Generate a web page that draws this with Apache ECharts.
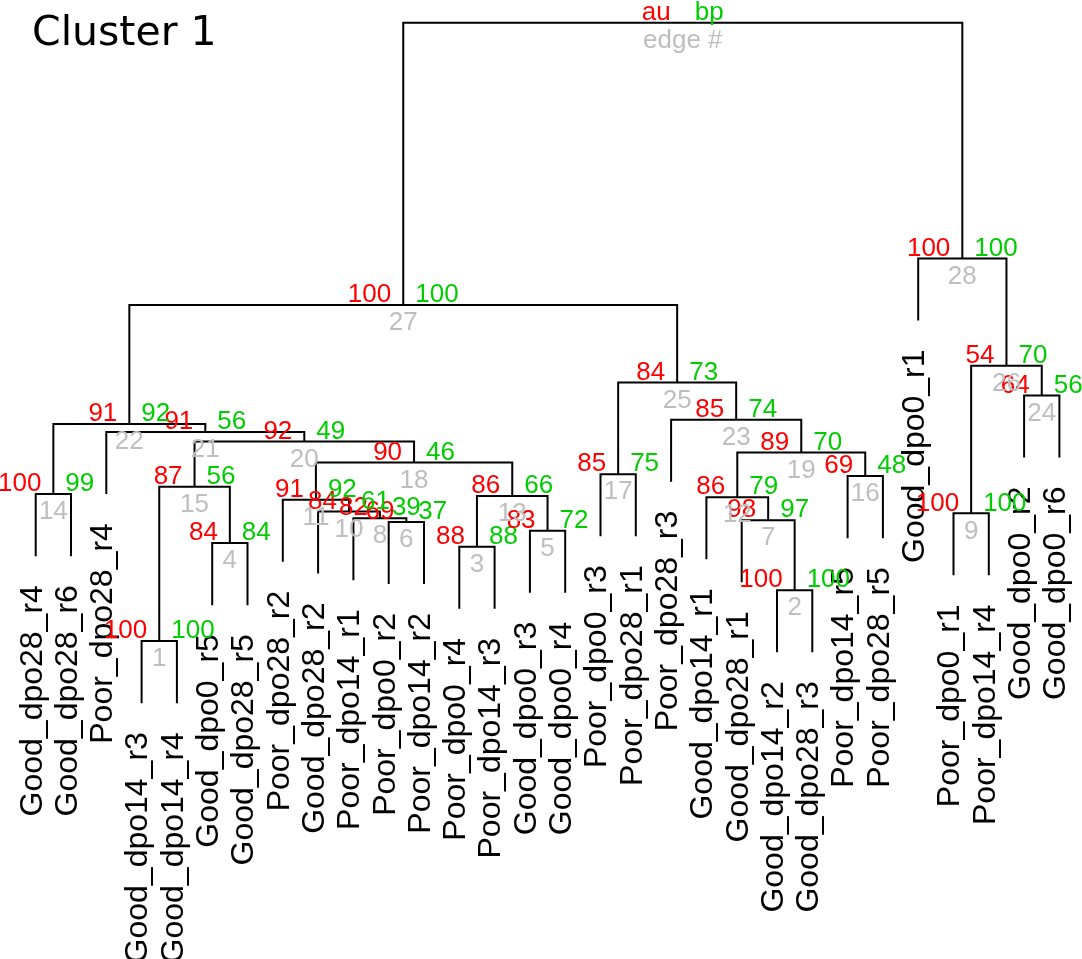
<!DOCTYPE html>
<html>
<head>
<meta charset="utf-8">
<title>Cluster 1</title>
<script src="https://cdn.jsdelivr.net/npm/echarts@6/dist/echarts.min.js"></script>
<style>
  html, body { margin: 0; padding: 0; background: #fff; }
  #main { width: 1082px; height: 959px; }
</style>
</head>
<body>
<div id="main"></div>
<script>
// leaves in plotting order (left to right)
var leafLabels = [
    'Good_dpo28_r4', 'Good_dpo28_r6', 'Poor_dpo28_r4', 'Good_dpo14_r3', 'Good_dpo14_r4',
    'Good_dpo0_r5', 'Good_dpo28_r5', 'Poor_dpo28_r2', 'Good_dpo28_r2', 'Poor_dpo14_r1',
    'Poor_dpo0_r2', 'Poor_dpo14_r2', 'Poor_dpo0_r4', 'Poor_dpo14_r3', 'Good_dpo0_r3',
    'Good_dpo0_r4', 'Poor_dpo0_r3', 'Poor_dpo28_r1', 'Poor_dpo28_r3', 'Good_dpo14_r1',
    'Good_dpo28_r1', 'Good_dpo14_r2', 'Good_dpo28_r3', 'Poor_dpo14_r5', 'Poor_dpo28_r5',
    'Good_dpo0_r1', 'Poor_dpo0_r1', 'Poor_dpo14_r4', 'Good_dpo0_r2', 'Good_dpo0_r6'
];

// merge table, hclust style: negative = leaf position, positive = earlier merge (edge #)
var mergeLeft  = [-4, -22, -13, -6, -15, -11, -21, -10, -27, -9, -8, -20, 3, -1, 1, -24, -17, 11, 12, 15, -3, 14, -19, -29, 17, 9, 22, -26, 27];
var mergeRight = [-5, -23, -14, -7, -16, -12, 2, 6, -28, 8, 10, 7, 5, -2, 4, -25, -18, 13, 16, 18, 20, 21, 19, -30, 23, 24, 25, 26, 28];
var mergeHeight = [0.003, 0.085, 0.155, 0.161, 0.181, 0.195, 0.198, 0.201, 0.209, 0.212,
                   0.231, 0.235, 0.237, 0.240, 0.252, 0.269, 0.272, 0.291, 0.307, 0.325,
                   0.340, 0.353, 0.360, 0.399, 0.420, 0.447, 0.545, 0.620, 1.000];

// p-values (%) for edges 1..28
var auValues = [100, 100, 88, 84, 83, 69, 98, 82, 100, 84, 91, 86, 86, 100, 87, 69, 85, 90, 89, 92, 91, 91, 85, 64, 84, 54, 100, 100];
var bpValues = [100, 100, 88, 84, 72, 37, 97, 39, 100, 61, 92, 79, 66, 99, 56, 48, 75, 46, 70, 49, 56, 92, 74, 56, 73, 70, 100, 100];

var rootLabels = ['au', 'bp', 'edge #'];
var hang = 0.1;

document.addEventListener('DOMContentLoaded', function () {
    var chart = echarts.init(document.getElementById('main'));

    // x position of every merge = mean of its two children
    var nodeX = [];
    function childX(c) {
        return c < 0 ? -c : nodeX[c - 1];
    }
    for (var i = 0; i < mergeLeft.length; i++) {
        nodeX.push((childX(mergeLeft[i]) + childX(mergeRight[i])) / 2);
    }

    var treeData = [];
    var leafEnd = [];
    function childTop(c, h) {
        if (c < 0) {
            leafEnd[-c - 1] = h - hang;
            return h - hang;
        }
        return mergeHeight[c - 1];
    }
    for (var i = 0; i < mergeLeft.length; i++) {
        var h = mergeHeight[i];
        treeData.push([nodeX[i], h,
            childX(mergeLeft[i]), childTop(mergeLeft[i], h),
            childX(mergeRight[i]), childTop(mergeRight[i], h)]);
    }

    var leafData = leafLabels.map(function (name, idx) {
        return [idx + 1, leafEnd[idx]];
    });

    var pvData = auValues.map(function (au, idx) {
        return [nodeX[idx], mergeHeight[idx], au, bpValues[idx], idx + 1];
    });

    var last = mergeLeft.length - 1;
    var rootData = [[nodeX[last], mergeHeight[last]]];

    var labelFont = 'Liberation Sans, Arial, Helvetica, sans-serif';
    var pvSize = 26;

    function pvGroup(p, au, bp, edge) {
        return {
            type: 'group',
            children: [
                {
                    type: 'text', x: p[0] - 12, y: p[1] + 3,
                    style: { text: String(au), fill: '#FF0000', font: pvSize + 'px ' + labelFont, align: 'right', verticalAlign: 'bottom' }
                },
                {
                    type: 'text', x: p[0] + 12, y: p[1] + 3,
                    style: { text: String(bp), fill: '#00CD00', font: pvSize + 'px ' + labelFont, align: 'left', verticalAlign: 'bottom' }
                },
                {
                    type: 'text', x: p[0], y: p[1] + 5,
                    style: { text: String(edge), fill: '#BEBEBE', font: pvSize + 'px ' + labelFont, align: 'center', verticalAlign: 'top' }
                }
            ]
        };
    }

    var option = {
        backgroundColor: '#ffffff',
        animation: false,
        title: {
            text: 'Cluster 1',
            left: 27,
            top: 9,
            textStyle: { fontFamily: 'DejaVu Sans', fontSize: 41, fontWeight: 'normal', color: '#000' }
        },
        grid: { left: 35.7, right: 22.6, top: 22.7, bottom: 254 },
        xAxis: { type: 'value', min: 1, max: 30, show: false },
        yAxis: { type: 'value', min: -0.1, max: 1, show: false },
        series: [
            {
                // dendrogram branches
                type: 'custom',
                data: treeData,
                encode: { x: 0, y: 1 },
                silent: true,
                renderItem: function (params, api) {
                    var top = api.coord([api.value(0), api.value(1)]);
                    var l = api.coord([api.value(2), api.value(3)]);
                    var r = api.coord([api.value(4), api.value(5)]);
                    return {
                        type: 'polyline',
                        shape: { points: [[l[0], l[1]], [l[0], top[1]], [r[0], top[1]], [r[0], r[1]]] },
                        style: { stroke: '#000', lineWidth: 2, fill: null }
                    };
                }
            },
            {
                // leaf labels, rotated
                type: 'custom',
                data: leafData,
                encode: { x: 0, y: 1 },
                silent: true,
                renderItem: function (params, api) {
                    var p = api.coord([api.value(0), api.value(1)]);
                    return {
                        type: 'text',
                        x: p[0] - 3,
                        y: p[1] + 29,
                        rotation: Math.PI / 2,
                        style: {
                            text: leafLabels[params.dataIndex],
                            fill: '#000',
                            font: '32px ' + labelFont,
                            align: 'right',
                            verticalAlign: 'middle'
                        }
                    };
                }
            },
            {
                // au / bp / edge numbers
                type: 'custom',
                data: pvData,
                encode: { x: 0, y: 1 },
                silent: true,
                renderItem: function (params, api) {
                    var p = api.coord([api.value(0), api.value(1)]);
                    return pvGroup(p, api.value(2), api.value(3), api.value(4));
                }
            },
            {
                // legend text at the root
                type: 'custom',
                data: rootData,
                encode: { x: 0, y: 1 },
                silent: true,
                renderItem: function (params, api) {
                    var p = api.coord([api.value(0), api.value(1)]);
                    return pvGroup(p, rootLabels[0], rootLabels[1], rootLabels[2]);
                }
            }
        ]
    };

    chart.setOption(option);
});
</script>
</body>
</html>
